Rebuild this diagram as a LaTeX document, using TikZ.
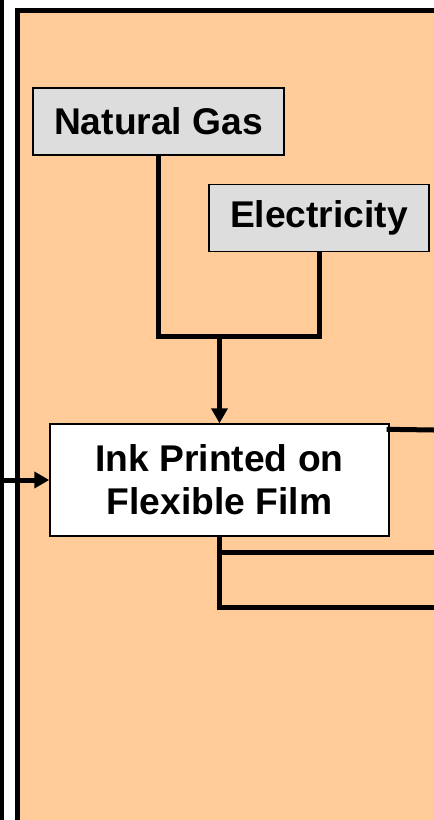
\documentclass[tikz,border=0pt]{standalone}
\usepackage{fontspec}
\setmainfont{Liberation Sans}
\usepackage{xcolor}
\usepackage{tikz}
\usetikzlibrary{
    arrows.meta,
    positioning,
    calc
}
\definecolor{panelorange}{HTML}{FFCC99}
\definecolor{fuelgray}{HTML}{DDDDDD}
\tikzset{
    fuel/.style={
        rectangle, draw=black, fill=fuelgray,
        line width=0.6pt, minimum height=33.5pt,
        align=center,
        font=\fontsize{18.6}{21.5}\selectfont\bfseries
    },
    process/.style={
        rectangle, draw=black, fill=white,
        line width=0.7pt, minimum height=56pt,
        align=center,
        font=\fontsize{18.6}{21.5}\selectfont\bfseries
    },
    pipe/.style={
        line width=2.5pt, draw=black
    },
    data flow/.style={
        pipe, -{Triangle[length=7.5pt, width=8pt]}
    },
}

\begin{document}
\begin{tikzpicture}[x=0.5pt, y=-0.5pt]

    \useasboundingbox (0,0) rectangle (434,820);

    % Boundary line and process panel
    \draw[line width=2pt] (2,0) -- (2,820);
    \draw[line width=2.5pt, fill=panelorange] (17.5,10.5) rectangle (470,850);

    % Energy inputs
    \node[fuel, minimum width=125.5pt] (gas) at (158.5,121.5) {Natural Gas};
    \node[fuel, minimum width=110pt] (elec) at (319,218) {Electricity};

    % Printing step
    \node[process, minimum width=169.5pt] (ink) at (219.5,480) {Ink Printed on\\Flexible Film};

    \coordinate (join) at (219.5,336);
    \coordinate (inlet) at (0,480);
    \coordinate (outtop) at (434,430);
    \coordinate (outmid) at (434,552);
    \coordinate (outlow) at (434,607);

    % Flows
    \draw[pipe] (gas.south) |- (join) -| (elec.south);
    \draw[data flow] (join) -- (ink.north);
    \draw[data flow] (inlet) -- (ink.west);

    % Outputs
    \draw[pipe] ($(ink.north east)+(-3,6)$) -- (outtop);
    \draw[pipe] (ink.south) |- (outlow);
    \draw[pipe] (ink.south |- outmid) -- (outmid);

\end{tikzpicture}
\end{document}
